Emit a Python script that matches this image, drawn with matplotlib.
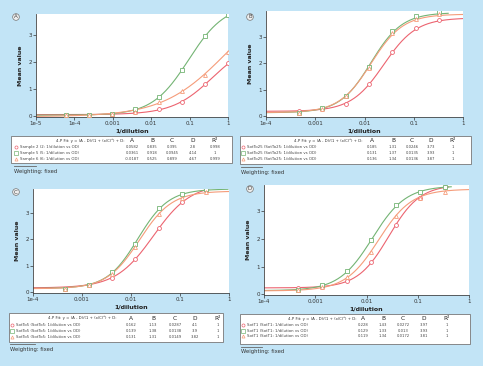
import numpy as np
import matplotlib
matplotlib.use("Agg")
import matplotlib.pyplot as plt
from matplotlib.patches import Rectangle

W, H = 483, 366
BG = "#c2e4f6"
RED, GREEN, ORANGE = "#ec6470", "#74b474", "#f59c7a"
COLORS = [RED, GREEN, ORANGE]
MARKERS = ["o", "s", "^"]

# ---------------- data ----------------
x4 = [1, 0.25, 0.0625, 0.0156, 0.0039, 0.00098, 0.000244, 0.000061]
x3 = [0.333, 0.111, 0.037, 0.0123, 0.00412, 0.00137, 0.000457]

a_red = [1.95, 1.20, 0.52, 0.28, 0.15, 0.08, 0.05, 0.04]
a_green = [3.73, 2.97, 1.70, 0.71, 0.27, 0.09, 0.05, 0.04]
a_orange = [2.39, 1.52, 0.93, 0.51, 0.17, 0.08, 0.05, 0.04]

b_red = [3.66, 3.35, 2.45, 1.23, 0.48, 0.28, 0.20]
b_green = [3.94, 3.79, 3.24, 1.88, 0.78, 0.30, 0.13]
b_orange = [3.86, 3.69, 3.17, 1.83, 0.75, 0.28, 0.13]

c_red = [3.88, 3.40, 2.41, 1.25, 0.55, 0.29, 0.14]
c_green = [3.90, 3.70, 3.18, 1.84, 0.76, 0.29, 0.13]
c_orange = [3.78, 3.56, 2.96, 1.70, 0.68, 0.29, 0.13]

d_red = [3.88, 3.50, 2.50, 1.15, 0.47, 0.27, 0.23]
d_green = [3.88, 3.71, 3.23, 1.95, 0.85, 0.34, 0.14]
d_orange = [3.72, 3.50, 2.84, 1.54, 0.62, 0.26, 0.14]

# 4-P fit parameters (A, B, C, D, R2) as shown in the tables
a_params = [[0.0582, 0.835, 0.395, 2.8, 0.998],
            [0.0361, 0.918, 0.0945, 4.14, 1],
            [-0.0187, 0.525, 0.899, 4.67, 0.999]]
b_params = [[0.185, 1.31, 0.0246, 3.73, 1],
            [0.131, 1.37, 0.0135, 3.93, 1],
            [0.136, 1.34, 0.0136, 3.87, 1]]
c_params = [[0.162, 1.13, 0.0287, 4.1, 1],
            [0.139, 1.38, 0.0138, 3.9, 1],
            [0.131, 1.31, 0.0149, 3.82, 1]]
d_params = [[0.228, 1.43, 0.0272, 3.97, 1],
            [0.129, 1.33, 0.013, 3.93, 1],
            [0.119, 1.34, 0.0172, 3.81, 1]]

a_params_txt = [["0.0582", "0.835", "0.395", "2.8", "0.998"],
                ["0.0361", "0.918", "0.0945", "4.14", "1"],
                ["-0.0187", "0.525", "0.899", "4.67", "0.999"]]
b_params_txt = [["0.185", "1.31", "0.0246", "3.73", "1"],
                ["0.131", "1.37", "0.0135", "3.93", "1"],
                ["0.136", "1.34", "0.0136", "3.87", "1"]]
c_params_txt = [["0.162", "1.13", "0.0287", "4.1", "1"],
                ["0.139", "1.38", "0.0138", "3.9", "1"],
                ["0.131", "1.31", "0.0149", "3.82", "1"]]
d_params_txt = [["0.228", "1.43", "0.0272", "3.97", "1"],
                ["0.129", "1.33", "0.013", "3.93", "1"],
                ["0.119", "1.34", "0.0172", "3.81", "1"]]

a_names = ["Sample 2 (2: 1/dilution vs OD)", "Sample 5 (5: 1/dilution vs OD)",
           "Sample 6 (6: 1/dilution vs OD)"]
b_names = ["SotTo25 (SotTo25: 1/dilution vs OD)"] * 3
c_names = ["SotTo5 (SotTo5: 1/dilution vs OD)"] * 3
d_names = ["SotT1 (SotT1: 1/dilution vs OD)"] * 3

a_xticks = [1e-5, 1e-4, 1e-3, 1e-2, 1e-1, 1]
a_xticklabels = ["1e-5", "1e-4", "0.001", "0.01", "0.1", "1"]
bcd_xticks = [1e-4, 1e-3, 1e-2, 1e-1, 1]
bcd_xticklabels = ["1e-4", "0.001", "0.01", "0.1", "1"]
yticks = [0, 1, 2, 3]

# ---------------- helpers ----------------
fig = plt.figure(figsize=(W / 100, H / 100), dpi=100)
fig.patch.set_facecolor(BG)


def fx(px):
    return px / W


def fy(py):
    return 1 - py / H


def fourpl(x, p):
    A, B, C, D = p[:4]
    return (A - D) / (1 + (x / C) ** B) + D


def panel(box, xs, series, params, xticks, xticklabels, xlim, ylim, ends, letter, letter_xy):
    l, t, r, b = box
    ax = fig.add_axes([fx(l), fy(b), fx(r - l), fy(t) - fy(b)])
    ax.set_facecolor("white")
    for i, (ys, p) in enumerate(zip(series, params)):
        xx = np.logspace(np.log10(xlim[0]), np.log10(ends[i]), 300)
        ax.plot(xx, fourpl(xx, p), color=COLORS[i], lw=0.8, zorder=2)
        ax.plot(xs, ys, ls="none", marker=MARKERS[i], ms=2.8, mew=0.6,
                mec=COLORS[i], mfc="white", zorder=3)
    ax.set_xscale("log")
    ax.set_xlim(*xlim)
    ax.set_ylim(*ylim)
    ax.set_xticks(xticks)
    ax.set_xticklabels(xticklabels)
    ax.minorticks_off()
    ax.set_yticks(yticks)
    ax.tick_params(labelsize=4, length=2, width=0.5, colors="#333333", pad=1)
    for s in ["top", "right"]:
        ax.spines[s].set_visible(False)
    for s in ["left", "bottom"]:
        ax.spines[s].set_linewidth(0.6)
        ax.spines[s].set_color("#444444")
    ax.set_xlabel("1/dilution", fontsize=4.5, fontweight="bold", labelpad=1.5, color="#222222")
    ax.set_ylabel("Mean value", fontsize=4.5, fontweight="bold", labelpad=4, color="#222222")
    fig.text(fx(letter_xy[0]), fy(letter_xy[1]), letter, fontsize=4, ha="center", va="center",
             color="#444444",
             bbox=dict(boxstyle="circle,pad=0.15", fc="#eeeeee", ec="#777777", lw=0.5))
    return ax


def table(box, header_y, rows_y, header_end, cols_x, names, ptxt, mark_x, text_x, weight_xy, line_x2):
    l, t, r, b = box
    fig.patches.append(Rectangle((fx(l), fy(b)), fx(r - l), fy(t) - fy(b), transform=fig.transFigure,
                                 fc="white", ec="#777777", lw=0.6))
    fig.text(fx(header_end), fy(header_y), "4-P Fit: y = (A - D)/(1 + (x/C)ᴮ) + D:",
             fontsize=2.8, ha="right", va="center", color="#333333")
    for cx, lab in zip(cols_x, ["A", "B", "C", "D", "R²"]):
        fig.text(fx(cx), fy(header_y), lab, fontsize=4.2, ha="center", va="center", color="#222222")
    for i, ry in enumerate(rows_y):
        fig.lines.append(plt.Line2D([fx(mark_x)], [fy(ry)], transform=fig.transFigure, ls="none",
                                    marker=MARKERS[i], ms=2.2, mew=0.5, mec=COLORS[i], mfc="white"))
        fig.text(fx(text_x), fy(ry), names[i], fontsize=2.8, ha="left", va="center", color="#444444")
        for cx, v in zip(cols_x, ptxt[i]):
            fig.text(fx(cx), fy(ry), v, fontsize=2.7, ha="center", va="center", color="#444444")
    fig.text(fx(weight_xy[0]), fy(weight_xy[1]), "Weighting: fixed", fontsize=3.8, ha="left",
             va="center", color="#333333")
    fig.lines.append(plt.Line2D([fx(weight_xy[0]), fx(line_x2)], [fy(weight_xy[1] - 5)] * 2,
                                transform=fig.transFigure, color="#666666", lw=0.6))


# Panel A
panel((36, 14, 228, 117), x4, [a_red, a_green, a_orange], a_params, a_xticks, a_xticklabels,
      (1e-5, 1), (-0.03, 3.78), [1, 1, 1], "A", (16, 17))
table((11, 136, 232, 163), 140.5, [147, 153, 159], 125, [132, 152, 172, 193, 215],
      a_names, a_params_txt, 16, 20, (14, 171), 36)

# Panel B
panel((266, 11, 463, 117), x3, [b_red, b_green, b_orange], b_params, bcd_xticks, bcd_xticklabels,
      (1e-4, 1), (-0.03, 3.99), [1, 0.5, 1], "B", (250, 17))
table((240, 136, 471, 164), 141, [147.5, 153, 158.5], 362, [372, 393, 412, 431, 453],
      b_names, b_params_txt, 243, 247, (241, 172), 262)

# Panel C
panel((33, 189, 229, 293), x3, [c_red, c_green, c_orange], c_params, bcd_xticks, bcd_xticklabels,
      (1e-4, 1), (-0.03, 3.9), [1, 0.95, 1], "C", (16, 192))
table((9, 313, 223, 342), 318, [324.5, 330.5, 337], 117, [131, 153, 175, 195, 218],
      c_names, c_params_txt, 12, 16, (10, 349), 35)

# Panel D
panel((264, 185, 469, 295), x3, [d_red, d_green, d_orange], d_params, bcd_xticks, bcd_xticklabels,
      (1e-4, 1), (-0.03, 3.96), [0.4, 0.45, 1], "D", (250, 189))
table((240, 314, 470, 344), 318.5, [325, 330.5, 336], 357, [363, 383, 403, 424, 447],
      d_names, d_params_txt, 243, 247, (241, 352), 262)

fig.savefig("out.png", dpi=100, facecolor=BG)
